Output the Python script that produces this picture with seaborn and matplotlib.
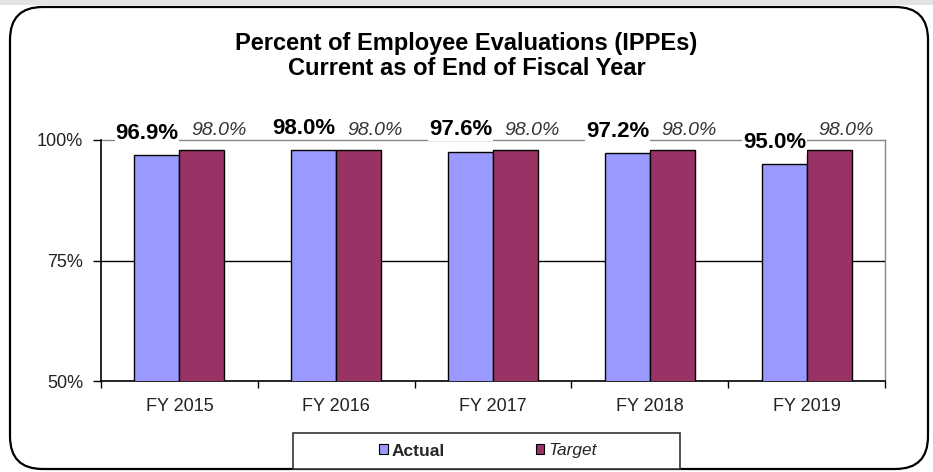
import matplotlib
matplotlib.use("Agg")
import matplotlib.pyplot as plt
import matplotlib.patches as mpatches
import seaborn as sns
import pandas as pd

years = ["FY 2015", "FY 2016", "FY 2017", "FY 2018", "FY 2019"]
actual = [96.9, 98.0, 97.6, 97.2, 95.0]
target = [98.0, 98.0, 98.0, 98.0, 98.0]
series = ["Actual", "Target"]
yticks = [50, 75, 100]
ytick_labels = ["50%", "75%", "100%"]
title = "Percent of Employee Evaluations (IPPEs)\nCurrent as of End of Fiscal Year"

df = pd.DataFrame({
    "year": years * 2,
    "value": actual + target,
    "series": [series[0]] * len(years) + [series[1]] * len(years),
})

sns.set_theme(style="white")
plt.rcParams["font.family"] = ["Liberation Sans", "DejaVu Sans"]

W, H = 933, 472
fig = plt.figure(figsize=(W / 100, H / 100), dpi=100)
fig.patch.set_facecolor("white")

# top gray strip and rounded frame
fig.patches.append(mpatches.Rectangle((0, 1 - 5 / H), 1, 5 / H, transform=fig.transFigure,
                                      facecolor="#e4e4e4", edgecolor="none", zorder=-5))
fig.patches.append(mpatches.FancyBboxPatch((10 / W, 3 / H), 918 / W, 462 / H,
                                           boxstyle="round,pad=0,rounding_size=0.035",
                                           transform=fig.transFigure, facecolor="white",
                                           edgecolor="black", linewidth=1.6, zorder=-4,
                                           mutation_aspect=W / H))

ax = fig.add_axes([101 / W, (H - 381) / H, (885 - 101) / W, (381 - 140) / H])
ax.set_facecolor("none")

palette = {"Actual": "#9999FF", "Target": "#993366"}
sns.barplot(data=df, x="year", y="value", hue="series", palette=palette, ax=ax,
            width=0.575, gap=0, edgecolor="black", linewidth=1, saturation=1,
            legend=False, zorder=3)

ax.set_ylim(50, 100)
ax.set_xlim(-0.5, len(years) - 0.5)
ax.axhline(75, color="black", lw=1, zorder=1)

ax.set_yticks(yticks)
ax.set_yticklabels(ytick_labels, fontsize=13, color="#222222")
ax.tick_params(axis="y", which="major", direction="out", length=6, width=1, color="black",
               left=True, pad=7)

# x ticks at category boundaries, labels at centers
ax.set_xticks([i + 0.5 for i in range(len(years) - 1)] + [-0.5, len(years) - 0.5])
ax.set_xticklabels([""] * (len(years) + 1))
ax.set_xticks(range(len(years)), minor=True)
ax.set_xticklabels(years, minor=True, fontsize=13, color="#222222")
ax.tick_params(axis="x", which="major", direction="out", length=5, width=1, color="black",
               bottom=True)
ax.tick_params(axis="x", which="minor", length=0, pad=12)
ax.set_xlabel("")
ax.set_ylabel("")

for side in ["left", "bottom"]:
    ax.spines[side].set_color("black")
    ax.spines[side].set_linewidth(1.2)
for side in ["top", "right"]:
    ax.spines[side].set_visible(True)
    ax.spines[side].set_color("#888888")
    ax.spines[side].set_linewidth(1)
    ax.spines[side].set_zorder(0.5)

# data labels
for cont, dx, props in [
    (ax.containers[0], -7, dict(fontsize=16, fontweight="bold", color="black")),
    (ax.containers[1], 12, dict(fontsize=14, fontstyle="italic", color="#333333")),
]:
    for bar, val in zip(cont, cont.datavalues):
        ax.annotate(f"{val:.1f}%", (bar.get_x() + bar.get_width() / 2, bar.get_height()),
                    xytext=(dx, 8), textcoords="offset points", ha="center", va="bottom",
                    annotation_clip=False, zorder=6,
                    bbox=dict(facecolor="white", edgecolor="none", pad=0.5), **props)

fig.text(0.5, 1 - 56 / H, title, ha="center", va="center", fontsize=17, fontweight="bold",
         color="black", linespacing=1.12)

# legend
fig.patches.append(mpatches.Rectangle((293 / W, (H - 469) / H), 387 / W, 36 / H,
                                      transform=fig.transFigure, facecolor="white",
                                      edgecolor="#333333", linewidth=1.2, zorder=-1))
handles = [mpatches.Patch(facecolor=palette[s], edgecolor="black", linewidth=0.8) for s in series]
leg = fig.legend(handles, series, loc="center", bbox_to_anchor=(488 / W, (H - 451) / H),
                 ncol=2, frameon=False, fontsize=12.5, handlelength=0.5, handleheight=0.5,
                 handletextpad=0.25, columnspacing=5.2)
leg.set_zorder(3)
leg.get_texts()[0].set_fontweight("bold")
leg.get_texts()[1].set_fontstyle("italic")

fig.savefig("out.png", dpi=100)
